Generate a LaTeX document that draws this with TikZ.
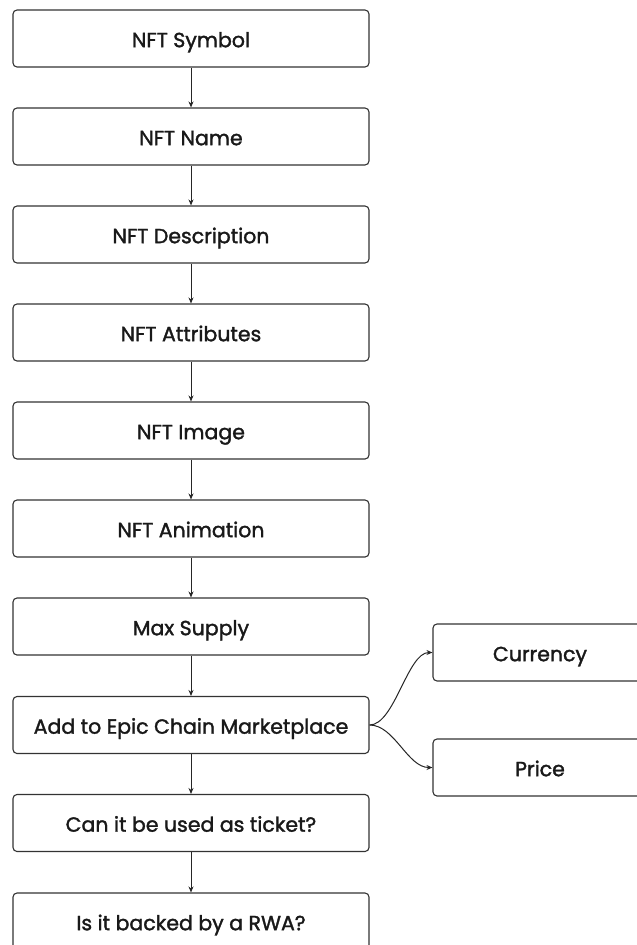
\documentclass[tikz,border=0pt]{standalone}
\usepackage{fontspec}
\setmainfont{Poppins}[FakeBold=1.6]
\usetikzlibrary{arrows.meta}
\begin{document}
\begin{tikzpicture}[x=1pt,y=-1pt,
  box/.style={draw=black!80, line width=1.1pt, rounded corners=4pt, fill=white,
    minimum width=356pt, minimum height=57pt, inner sep=0pt, text height=20pt, text depth=2.6pt,
    font=\fontsize{20.5}{22}\selectfont, text=black!90},
  sidebox/.style={box, minimum width=214pt},
  conn/.style={draw=black!85, line width=1pt, -{Stealth[length=6pt,width=5pt]}}]
\useasboundingbox (0,0) rectangle (637,945);
\clip (0,0) rectangle (637,945);
\fill[white] (0,0) rectangle (637,945);
\node[box] (n1) at (191,38.5) {NFT Symbol};
\node[box] (n2) at (191,136.5) {NFT Name};
\node[box] (n3) at (191,234.5) {NFT Description};
\node[box] (n4) at (191,332.5) {NFT Attributes};
\node[box] (n5) at (191,430.5) {NFT Image};
\node[box] (n6) at (191,528.5) {NFT Animation};
\node[box] (n7) at (191,626.5) {Max Supply};
\node[box] (n8) at (191,725) {Add to Epic Chain Marketplace};
\node[box] (n9) at (191,823) {Can it be used as ticket?};
\node[box] (n10) at (191,921.5) {Is it backed by a RWA?};
\node[sidebox] (cur) at (540,652.5) {Currency};
\node[sidebox] (pri) at (540,767.5) {Price};
\draw[conn] (n1) -- (n2);
\draw[conn] (n2) -- (n3);
\draw[conn] (n3) -- (n4);
\draw[conn] (n4) -- (n5);
\draw[conn] (n5) -- (n6);
\draw[conn] (n6) -- (n7);
\draw[conn] (n7) -- (n8);
\draw[conn] (n8) -- (n9);
\draw[conn] (n9) -- (n10);
\draw[conn] (n8.east) .. controls +(25,0) and +(-25,0) .. (cur.west);
\draw[conn] (n8.east) .. controls +(25,0) and +(-25,0) .. (pri.west);
\end{tikzpicture}
\end{document}
